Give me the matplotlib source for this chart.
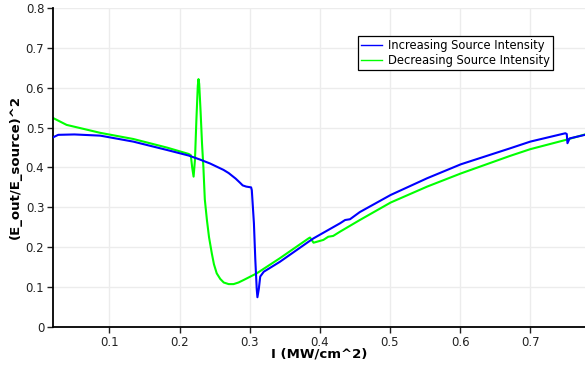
import matplotlib
matplotlib.use('Agg')
import matplotlib.pyplot as plt

# increasing source intensity (blue)
inc_x = [0.020, 0.027, 0.050, 0.087, 0.134, 0.182, 0.213, 0.229, 0.2435, 0.2626, 0.270, 0.280,
         0.286, 0.290, 0.295, 0.302, 0.303, 0.306, 0.308, 0.310, 0.311, 0.313, 0.315, 0.320,
         0.343, 0.384, 0.391, 0.429, 0.436, 0.443, 0.457, 0.501, 0.553, 0.601, 0.671, 0.700,
         0.750, 0.752, 0.753, 0.756, 0.778]
inc_y = [0.476, 0.482, 0.483, 0.480, 0.465, 0.444, 0.430, 0.420, 0.410, 0.394, 0.386, 0.372,
         0.362, 0.355, 0.352, 0.350, 0.343, 0.260, 0.168, 0.095, 0.074, 0.095, 0.126, 0.138,
         0.163, 0.2136, 0.222, 0.260, 0.268, 0.270, 0.288, 0.331, 0.373, 0.408, 0.448, 0.465,
         0.486, 0.484, 0.461, 0.473, 0.482]

# decreasing source intensity (green)
dec_x = [0.020, 0.039, 0.087, 0.134, 0.182, 0.213, 0.216, 0.218, 0.220, 0.222, 0.224, 0.226,
         0.227, 0.228, 0.230, 0.232, 0.234, 0.236, 0.239, 0.242, 0.246, 0.249, 0.253, 0.258,
         0.263, 0.270, 0.277, 0.284, 0.291, 0.310, 0.343, 0.384, 0.386, 0.391, 0.405, 0.412,
         0.419, 0.429, 0.457, 0.501, 0.553, 0.601, 0.671, 0.700, 0.750, 0.778]
dec_y = [0.524, 0.507, 0.487, 0.4716, 0.450, 0.434, 0.431, 0.400, 0.377, 0.420, 0.520, 0.605,
         0.622, 0.610, 0.540, 0.461, 0.400, 0.320, 0.268, 0.225, 0.184, 0.157, 0.134, 0.120,
         0.111, 0.107, 0.107, 0.111, 0.117, 0.134, 0.172, 0.222, 0.224, 0.211, 0.218, 0.226,
         0.228, 0.239, 0.268, 0.312, 0.352, 0.385, 0.429, 0.446, 0.469, 0.483]

x_ticks = [0.1, 0.2, 0.3, 0.4, 0.5, 0.6, 0.7]
y_ticks = [0, 0.1, 0.2, 0.3, 0.4, 0.5, 0.6, 0.7, 0.8]
y_labels = ['0', '0.1', '0.2', '0.3', '0.4', '0.5', '0.6', '0.7', '0.8']

plt.rcParams['font.family'] = ['DejaVu Sans']

fig = plt.figure(figsize=(5.85, 3.66), dpi=100)
ax = fig.add_axes([0.0911, 0.1074, 0.9089, 0.870])

ax.plot(inc_x, inc_y, color='#0000ff', lw=1.5, label='Increasing Source Intensity', zorder=3)
ax.plot(dec_x, dec_y, color='#00ff00', lw=1.5, label='Decreasing Source Intensity', zorder=2)

ax.set_xlim(0.02, 0.778)
ax.set_ylim(0, 0.8)
ax.set_xticks(x_ticks)
ax.set_xticklabels([str(t) for t in x_ticks])
ax.set_yticks(y_ticks)
ax.set_yticklabels(y_labels)
ax.tick_params(labelsize=8.5, length=4, width=1, direction='out', colors='#222222', pad=2.5)
ax.grid(True, color='#ececec', lw=1)
ax.set_axisbelow(True)
for s in ['top', 'right']:
    ax.spines[s].set_visible(False)
for s in ['left', 'bottom']:
    ax.spines[s].set_linewidth(1.3)

ax.set_xlabel('I (MW/cm^2)', fontsize=9.5, fontweight='bold', labelpad=-1)
ax.set_ylabel('(E_out/E_source)^2', fontsize=9.5, fontweight='bold', labelpad=3)

leg = ax.legend(loc='upper left', bbox_to_anchor=(0.573, 0.913), fontsize=8.3,
                frameon=True, fancybox=False, edgecolor='black', framealpha=1,
                handlelength=1.8, borderpad=0.3, labelspacing=0.1, handletextpad=0.5,
                borderaxespad=0)
leg.get_frame().set_linewidth(0.9)
for line in leg.get_lines():
    line.set_linewidth(1.0)

fig.savefig('out.png', dpi=100)
